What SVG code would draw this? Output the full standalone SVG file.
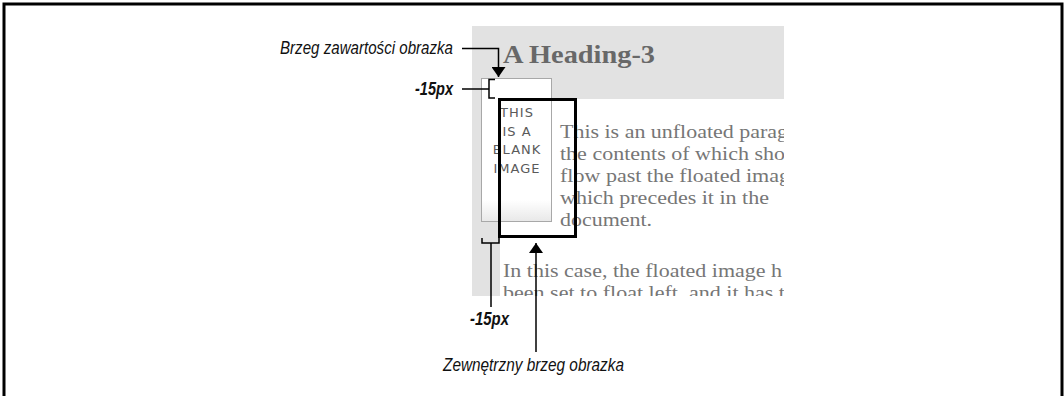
<svg xmlns="http://www.w3.org/2000/svg" width="1064" height="396" viewBox="0 0 1064 396">
<style>
.lbl{font-family:"Liberation Sans",Arial,sans-serif;font-style:italic;font-size:19px;fill:#111}
.lblb{font-family:"Liberation Sans",Arial,sans-serif;font-style:italic;font-weight:bold;font-size:19px;fill:#111}
.para{font-family:"Liberation Serif","Times New Roman",serif;font-size:19.5px;fill:#767676}
.img{font-family:"DejaVu Sans",Verdana,sans-serif;font-size:13px;fill:#5a5a5a;letter-spacing:1px}
.ln{fill:none;stroke:#000;stroke-width:1.5}
</style>
<defs>
<clipPath id="page"><rect x="472" y="26" width="312" height="270"/></clipPath>
<marker id="ah" viewBox="0 0 10 14" refX="10" refY="7" markerWidth="10" markerHeight="14" markerUnits="userSpaceOnUse" orient="auto"><path d="M0,0 L10,7 L0,14 Z" fill="#000"/></marker>
<linearGradient id="imgsh" x1="0" y1="0" x2="0" y2="1"><stop offset="0.85" stop-color="#fff"/><stop offset="1" stop-color="#e8e8e8"/></linearGradient>
</defs>
<rect width="1064" height="396" fill="#fff"/>
<path d="M4,400 V4 H1062 V400" fill="none" stroke="#000" stroke-width="3"/>
<g id="page-render" clip-path="url(#page)">
<rect x="472" y="26" width="312" height="73" fill="#e2e2e2"/>
<rect x="472" y="99" width="28" height="197" fill="#e2e2e2"/>
<text x="503" y="63" font-family="Liberation Serif,Times New Roman,serif" font-weight="bold" font-size="25" fill="#686868" textLength="152" lengthAdjust="spacingAndGlyphs">A Heading-3</text>
<text class="para" x="560" y="138" textLength="228" lengthAdjust="spacingAndGlyphs">This is an unfloated parag</text>
<text class="para" x="560" y="160" textLength="225" lengthAdjust="spacingAndGlyphs">the contents of which sho</text>
<text class="para" x="560" y="182" textLength="230" lengthAdjust="spacingAndGlyphs">flow past the floated imag</text>
<text class="para" x="560" y="204" textLength="209" lengthAdjust="spacingAndGlyphs">which precedes it in the</text>
<text class="para" x="560" y="226" textLength="92" lengthAdjust="spacingAndGlyphs">document.</text>
<text class="para" x="503" y="277" textLength="279" lengthAdjust="spacingAndGlyphs">In this case, the floated image h</text>
<text class="para" x="503" y="299" textLength="282" lengthAdjust="spacingAndGlyphs">been set to float left, and it has t</text>
</g>
<g id="blank-image">
<rect x="481.5" y="78.5" width="70" height="143" fill="url(#imgsh)" stroke="#a8a8a8" stroke-width="1"/>
<text class="img" text-anchor="middle" x="517" y="117">THIS</text>
<text class="img" text-anchor="middle" x="517" y="136">IS A</text>
<text class="img" text-anchor="middle" x="517" y="154">BLANK</text>
<text class="img" text-anchor="middle" x="517" y="173">IMAGE</text>
</g>
<g id="outer-edge">
<rect x="499.5" y="99.5" width="76" height="137" fill="none" stroke="#000" stroke-width="3"/>
</g>
<g id="connectors">
<path class="ln" d="M462,48.5 H498.5 V77" marker-end="url(#ah)"/>
<path class="ln" d="M462,89 H489 M495,79.5 H489 V98 H495"/>
<path class="ln" d="M482,238 V243 H499 V238 M491,243 V307"/>
<path class="ln" d="M536,352 V243" marker-end="url(#ah)"/>
</g>
<g id="label-content-edge">
<text class="lbl" x="280" y="54" textLength="173" lengthAdjust="spacingAndGlyphs">Brzeg zawartości obrazka</text>
</g>
<g id="label-top-15">
<text class="lblb" x="415" y="95" textLength="38" lengthAdjust="spacingAndGlyphs">-15px</text>
</g>
<g id="label-bottom-15">
<text class="lblb" x="470" y="325" textLength="39" lengthAdjust="spacingAndGlyphs">-15px</text>
</g>
<g id="label-outer-edge">
<text class="lbl" x="443" y="371" textLength="181" lengthAdjust="spacingAndGlyphs">Zewnętrzny brzeg obrazka</text>
</g>
</svg>
